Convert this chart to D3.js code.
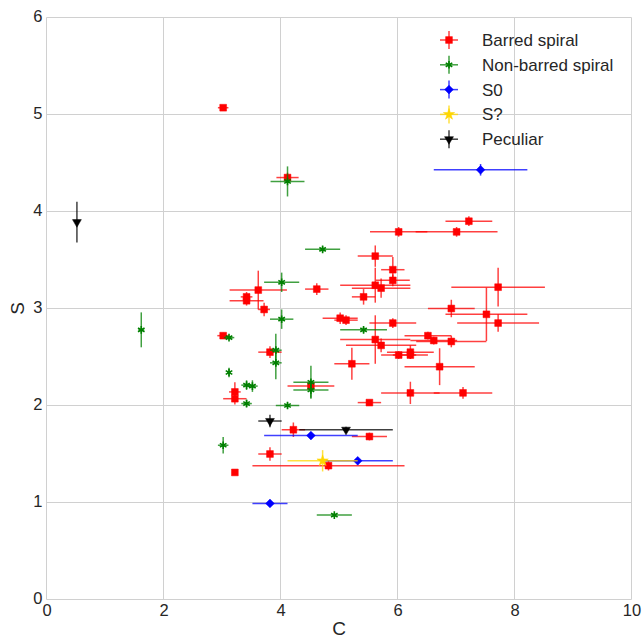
<!DOCTYPE html>
<html><head><meta charset="utf-8">
<script src="https://cdn.jsdelivr.net/npm/d3@7/dist/d3.min.js"></script>
<style>body{margin:0;background:#fff}svg{display:block}text{font-family:"Liberation Sans",Arial,sans-serif;fill:#262626}</style>
</head><body><svg id="c" width="643" height="640"></svg>
<script>
// [C, S, C error, S error]
const barred = [
[3.02,5.07,0.09,0.02],[4.12,4.35,0.19,0.05],[7.22,3.90,0.4,0.05],[6.02,3.79,0.49,0.05],
[7.01,3.79,0.7,0.05],[5.62,3.54,0.3,0.11],[5.92,3.40,0.2,0.13],[5.92,3.29,0.29,0.06],
[5.62,3.24,0.6,0.18],[5.72,3.21,0.5,0.1],[5.42,3.12,0.2,0.08],[7.72,3.22,0.8,0.2],
[3.62,3.19,0.49,0.2],[3.42,3.12,0.1,0.05],[3.42,3.08,0.29,0.05],[4.62,3.20,0.2,0.06],
[3.72,2.99,0.1,0.07],[6.92,3.00,0.4,0.09],[7.52,2.94,0.7,0.275],[7.72,2.85,0.7,0.09],
[5.92,2.85,0.4,0.05],[5.02,2.90,0.3,0.06],[5.12,2.88,0.2,0.05],[3.02,2.72,0.1,0.03],
[5.62,2.68,0.6,0.25],[5.72,2.62,0.6,0.07],[6.52,2.72,0.4,0.04],[6.62,2.67,0.4,0.04],
[6.92,2.66,0.6,0.06],[6.02,2.52,0.3,0.04],[6.22,2.55,0.4,0.07],[6.22,2.52,0.3,0.04],
[6.72,2.40,0.6,0.19],[5.22,2.43,0.3,0.165],[3.82,2.55,0.2,0.06],[3.22,2.14,0.1,0.1],
[3.22,2.07,0.2,0.06],[4.52,2.20,0.4,0.04],[6.22,2.13,0.5,0.115],[7.12,2.13,0.5,0.06],
[5.52,2.03,0.2,0.02],[4.22,1.75,0.2,0.075],[5.52,1.68,0.3,0.04],[3.82,1.50,0.2,0.07],
[4.82,1.38,1.3,0.05],[3.22,1.31,0.05,0.02]
];
const nonBarred = [
[4.12,4.31,0.29,0.155],[4.72,3.61,0.3,0.03],[4.02,3.27,0.3,0.1],[4.02,2.89,0.2,0.1],
[1.62,2.78,0.05,0.18],[5.42,2.78,0.4,0.03],[3.12,2.70,0.09,0.02],[3.92,2.57,0.1,0.17],
[3.92,2.44,0.1,0.17],[3.12,2.34,0.03,0.05],[3.42,2.21,0.09,0.05],[3.52,2.20,0.09,0.06],
[3.42,2.02,0.09,0.04],[4.12,2.00,0.2,0.03],[4.52,2.24,0.3,0.17],[4.52,2.16,0.3,0.08],
[3.02,1.59,0.09,0.086],[4.92,0.87,0.3,0.02]
];
const s0 = [[7.42,4.43,0.8,0.06],[4.52,1.69,0.8,0.03],[5.32,1.43,0.6,0.03],[3.82,0.99,0.3,0.02]];
const sUnknown = [[4.72,1.43,0.6,0.11]];
const peculiar = [[0.52,3.89,0.02,0.21],[3.82,1.84,0.2,0.065],[5.12,1.75,0.8,0.03]];
const seriesNames = ["Barred spiral","Non-barred spiral","S0","S?","Peculiar"];
const xTicks = [0,2,4,6,8,10];
const yTicks = [0,1,2,3,4,5,6];

const symAsterisk = {draw(ctx,size){const r=Math.sqrt(size)*0.6;for(let i=0;i<3;i++){const a=Math.PI*i/3+Math.PI/2;ctx.moveTo(r*Math.cos(a),r*Math.sin(a));ctx.lineTo(-r*Math.cos(a),-r*Math.sin(a));}}};
const series = [
 {name:seriesNames[0], data:barred, color:"red", sym:d3.symbolSquare, size:46, rot:0, sw:0.5},
 {name:seriesNames[1], data:nonBarred, color:"green", sym:symAsterisk, size:40, rot:0, sw:1.6},
 {name:seriesNames[2], data:s0, color:"blue", sym:d3.symbolSquare, size:38, rot:45, sw:0.5},
 {name:seriesNames[3], data:sUnknown, color:"gold", sym:d3.symbolStar, size:40, rot:0, sw:0.5},
 {name:seriesNames[4], data:peculiar, color:"black", sym:d3.symbolTriangle, size:34, rot:180, sw:0.5}
];

const svg = d3.select("#c");
const L=46.5,R=631.5,T=17.5,B=599.5;
const x = d3.scaleLinear().domain([0,10]).range([L,R]);
const y = d3.scaleLinear().domain([0,6]).range([B,T]);

const grid = svg.append("g");
grid.selectAll(".gx").data(xTicks).join("line").attr("x1",d=>x(d)).attr("x2",d=>x(d)).attr("y1",T).attr("y2",B).attr("stroke","#d0d0d0").attr("stroke-width",1);
grid.selectAll(".gy").data(yTicks).join("line").attr("x1",L).attr("x2",R).attr("y1",d=>y(d)).attr("y2",d=>y(d)).attr("stroke","#d0d0d0").attr("stroke-width",1);

const xAxis = svg.append("g").attr("transform",`translate(0,${B})`).call(d3.axisBottom(x).tickValues(xTicks).tickSize(0).tickPadding(5).tickFormat(d3.format("d")));
const yAxis = svg.append("g").attr("transform",`translate(${L},0)`).call(d3.axisLeft(y).tickValues(yTicks).tickSize(0).tickPadding(4).tickFormat(d3.format("d")));
[xAxis,yAxis].forEach(a=>{a.select(".domain").remove();a.selectAll("text").attr("font-size",16.5).attr("fill","#262626").attr("font-family","Liberation Sans, Arial, sans-serif");});
yAxis.selectAll("text").attr("dy","0.25em");

svg.append("text").attr("x",(L+R)/2).attr("y",635).attr("text-anchor","middle").attr("font-size",19).text("C");
svg.append("text").attr("transform",`translate(24,${(T+B)/2}) rotate(-90)`).attr("text-anchor","middle").attr("font-size",19).text("S");

const plot = svg.append("g");
series.forEach(s=>{
  const g = plot.append("g");
  g.selectAll(".ex").data(s.data).join("line").attr("x1",d=>x(d[0]-d[2])).attr("x2",d=>x(d[0]+d[2])).attr("y1",d=>y(d[1])).attr("y2",d=>y(d[1])).attr("stroke",s.color).attr("stroke-width",1.5).attr("stroke-opacity",0.75);
  g.selectAll(".ey").data(s.data).join("line").attr("x1",d=>x(d[0])).attr("x2",d=>x(d[0])).attr("y1",d=>y(d[1]-d[3])).attr("y2",d=>y(d[1]+d[3])).attr("stroke",s.color).attr("stroke-width",1.5).attr("stroke-opacity",0.75);
  const sym = d3.symbol().type(s.sym).size(s.size);
  g.selectAll(".m").data(s.data).join("path").attr("d",sym).attr("transform",d=>`translate(${x(d[0])},${y(d[1])}) rotate(${s.rot})`)
   .attr("fill",s.color).attr("stroke",s.color).attr("stroke-width",s.sw);
});

// legend
const lg = svg.append("g");
series.forEach((s,i)=>{
  const cy = 40 + i*24.8, cx = 449;
  lg.append("line").attr("x1",cx-9).attr("x2",cx+9).attr("y1",cy).attr("y2",cy).attr("stroke",s.color).attr("stroke-width",1.5).attr("stroke-opacity",0.75);
  lg.append("line").attr("x1",cx).attr("x2",cx).attr("y1",cy-9).attr("y2",cy+9).attr("stroke",s.color).attr("stroke-width",1.5).attr("stroke-opacity",0.75);
  lg.append("path").attr("d",d3.symbol().type(s.sym).size(s.size)()).attr("transform",`translate(${cx},${cy}) rotate(${s.rot})`).attr("fill",s.color).attr("stroke",s.color).attr("stroke-width",s.sw);
  lg.append("text").attr("x",482).attr("y",cy).attr("dy","0.35em").attr("font-size",17).text(s.name);
});
</script></body></html>
